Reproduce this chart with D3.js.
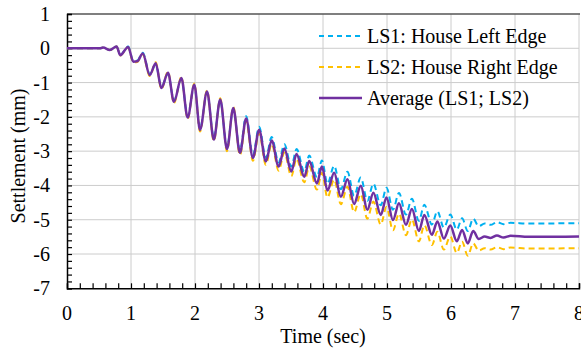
<!DOCTYPE html>
<html>
<head>
<meta charset="utf-8">
<script src="https://d3js.org/d3.v7.min.js"></script>
<style>
  body { margin: 0; background: #fff; }
  text { font-family: "Liberation Serif", "Times New Roman", serif; fill: #000; }
</style>
</head>
<body>
<script>
// values (time in sec, settlement in mm)
var time = [0, 0.51, 0.565, 0.67, 0.774, 0.833, 0.955, 1.036, 1.098, 1.184,
  1.293, 1.386, 1.475, 1.578, 1.671, 1.787, 1.885, 1.989, 2.079, 2.188,
  2.294, 2.394, 2.5, 2.598, 2.702, 2.799, 2.905, 3.002, 3.107, 3.198,
  3.307, 3.396, 3.505, 3.587, 3.707, 3.785, 3.905, 3.983, 4.07, 4.174,
  4.279, 4.382, 4.486, 4.59, 4.693, 4.787, 4.902, 4.992, 5.093, 5.187,
  5.296, 5.389, 5.498, 5.584, 5.701, 5.787, 5.888, 5.989, 6.09, 6.173,
  6.262, 6.347, 6.433, 6.526, 6.62, 6.718, 6.822, 6.931, 7.21, 8.0];

var ls1 = [0, 0, 0.02, -0.05, 0.05, -0.19, 0.05, -0.37, -0.36, -0.13,
  -0.75, -0.47, -1.13, -0.74, -1.52, -0.90, -1.98, -1.09, -2.33, -1.29,
  -2.61, -1.52, -2.88, -1.77, -2.98, -1.98, -3.12, -2.29, -3.20, -2.59,
  -3.33, -2.80, -3.45, -2.94, -3.59, -3.13, -3.76, -3.27, -3.95, -3.43,
  -4.11, -3.60, -4.30, -3.77, -4.45, -3.95, -4.58, -4.07, -4.71, -4.22,
  -4.85, -4.39, -5.03, -4.56, -5.14, -4.75, -5.23, -4.85, -5.29, -4.96,
  -5.33, -4.97, -5.19, -5.11, -5.15, -5.07, -5.13, -5.09, -5.11, -5.10];

var ls2 = [0, 0, 0.02, -0.05, 0.05, -0.21, 0.03, -0.41, -0.40, -0.17,
  -0.81, -0.41, -1.19, -0.68, -1.60, -0.84, -2.06, -1.03, -2.43, -1.23,
  -2.71, -1.46, -3.00, -1.71, -3.12, -2.12, -3.28, -2.47, -3.40, -2.79,
  -3.57, -3.04, -3.73, -3.22, -3.91, -3.45, -4.12, -3.63, -4.35, -3.83,
  -4.55, -4.04, -4.78, -4.25, -4.97, -4.47, -5.14, -4.63, -5.31, -4.82,
  -5.45, -4.99, -5.63, -5.16, -5.74, -5.35, -5.87, -5.49, -5.97, -5.64,
  -6.05, -5.69, -5.90, -5.83, -5.87, -5.80, -5.86, -5.81, -5.84, -5.83];

var avg = [0, 0, 0.02, -0.05, 0.05, -0.20, 0.04, -0.39, -0.38, -0.15,
  -0.78, -0.44, -1.16, -0.71, -1.56, -0.87, -2.02, -1.06, -2.38, -1.26,
  -2.66, -1.49, -2.94, -1.74, -3.05, -2.05, -3.20, -2.38, -3.30, -2.69,
  -3.45, -2.92, -3.59, -3.08, -3.75, -3.29, -3.94, -3.45, -4.15, -3.63,
  -4.33, -3.82, -4.54, -4.01, -4.71, -4.21, -4.86, -4.35, -5.01, -4.52,
  -5.15, -4.69, -5.33, -4.86, -5.44, -5.05, -5.55, -5.17, -5.63, -5.30,
  -5.69, -5.33, -5.56, -5.49, -5.53, -5.46, -5.52, -5.47, -5.50, -5.49];

var seriesNames = ["LS1: House Left Edge", "LS2: House Right Edge", "Average (LS1; LS2)"];
var xTicks = [0, 1, 2, 3, 4, 5, 6, 7, 8];
var yTicks = [1, 0, -1, -2, -3, -4, -5, -6, -7];

function draw() {
  var W = 581, H = 351;
  var pLeft = 67, pRight = 579, pTop = 14, pBottom = 288.3;

  var svg = d3.select("body").append("svg")
      .attr("width", W)
      .attr("height", H);

  var x = d3.scaleLinear().domain([0, 8]).range([pLeft, pRight]);
  var y = d3.scaleLinear().domain([-7, 1]).range([pBottom, pTop]);

  // gridlines
  svg.append("g").selectAll("line")
      .data(xTicks.slice(1))
      .enter().append("line")
      .attr("x1", function(d) { return x(d); })
      .attr("x2", function(d) { return x(d); })
      .attr("y1", pTop).attr("y2", pBottom)
      .attr("stroke", "#cccccc").attr("stroke-width", 1);
  svg.append("g").selectAll("line")
      .data(yTicks.slice(1, -1))
      .enter().append("line")
      .attr("x1", pLeft).attr("x2", pRight)
      .attr("y1", function(d) { return y(d); })
      .attr("y2", function(d) { return y(d); })
      .attr("stroke", "#cccccc").attr("stroke-width", 1);

  // top border
  svg.append("line")
      .attr("x1", pLeft).attr("x2", pRight + 1)
      .attr("y1", pTop).attr("y2", pTop)
      .attr("stroke", "#555").attr("stroke-width", 1.5);

  // axes, ticks pointing inward
  var xAxis = d3.axisTop(x).tickValues(d3.range(0, 8.01, 0.2)).tickSize(5).tickFormat("");
  var yAxis = d3.axisRight(y).tickValues(d3.range(-7, 1.01, 0.2)).tickSize(5).tickFormat("");

  svg.append("g")
      .attr("transform", "translate(0," + pBottom + ")")
      .call(xAxis)
      .call(function(g) {
        g.select(".domain").attr("stroke", "#000").attr("stroke-width", 1.5);
        g.selectAll(".tick line").attr("stroke", "#000").attr("stroke-width", 1.2);
      });
  svg.append("g")
      .attr("transform", "translate(" + pLeft + ",0)")
      .call(yAxis)
      .call(function(g) {
        g.select(".domain").attr("stroke", "#000").attr("stroke-width", 1.5);
        g.selectAll(".tick line").attr("stroke", "#000").attr("stroke-width", 1.2);
      });

  // tick labels
  svg.append("g").selectAll("text")
      .data(xTicks)
      .enter().append("text")
      .attr("x", function(d) { return x(d); })
      .attr("y", 320)
      .attr("text-anchor", "middle")
      .style("font-size", "20px")
      .text(function(d) { return d; });
  svg.append("g").selectAll("text")
      .data(yTicks)
      .enter().append("text")
      .attr("x", 50)
      .attr("y", function(d) { return y(d) + 7; })
      .attr("text-anchor", "end")
      .style("font-size", "20px")
      .text(function(d) { return d < 0 ? "-" + Math.abs(d) : d; });

  // axis titles
  svg.append("text")
      .attr("x", 323)
      .attr("y", 343)
      .attr("text-anchor", "middle")
      .style("font-size", "20px")
      .text("Time (sec)");
  svg.append("text")
      .attr("transform", "translate(25,156)rotate(-90)")
      .attr("text-anchor", "middle")
      .style("font-size", "20px")
      .text("Settlement (mm)");

  // series
  var styles = [
    { color: "#00B0F0", width: 2, dash: "6,4" },
    { color: "#FFC000", width: 2, dash: "6,4" },
    { color: "#7030A0", width: 2.5, dash: null }
  ];
  var series = [ls1, ls2, avg];

  var line = d3.line()
      .x(function(d) { return x(d[0]); })
      .y(function(d) { return y(d[1]); })
      .curve(d3.curveMonotoneX);

  series.forEach(function(s, i) {
    var pts = time.map(function(t, k) { return [t, s[k]]; });
    svg.append("path")
        .datum(pts)
        .attr("d", line)
        .attr("fill", "none")
        .attr("stroke", styles[i].color)
        .attr("stroke-width", styles[i].width)
        .attr("stroke-dasharray", styles[i].dash);
  });

  // legend
  var legend = svg.append("g");
  seriesNames.forEach(function(name, i) {
    var ly = 36 + i * 31;
    legend.append("line")
        .attr("x1", 319).attr("x2", 362)
        .attr("y1", ly).attr("y2", ly)
        .attr("stroke", styles[i].color)
        .attr("stroke-width", styles[i].width)
        .attr("stroke-dasharray", styles[i].dash ? "5,4" : null);
    legend.append("text")
        .attr("x", 367)
        .attr("y", ly + 7)
        .style("font-size", "20px")
        .text(name);
  });
}

draw();
</script>
</body>
</html>
